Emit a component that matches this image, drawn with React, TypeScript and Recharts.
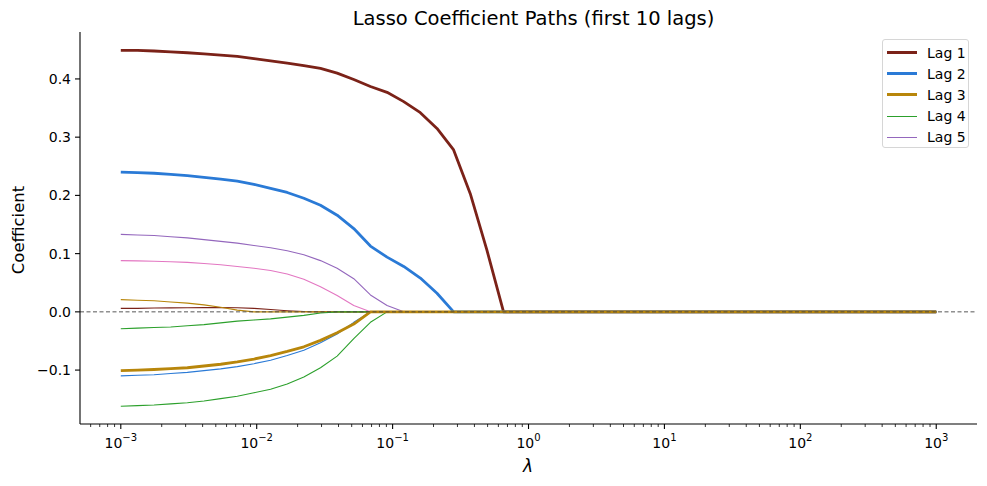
import { LineChart, Line, XAxis, YAxis, ReferenceLine } from 'recharts'

// lambda grid (log-spaced, 1e-3 .. 1e3, 50 points)
const lambdas = [
  0.001, 0.0013257, 0.0017575, 0.00233, 0.0030888, 0.0040949, 0.0054287, 0.0071969, 0.009541, 0.012649,
  0.016768, 0.02223, 0.029471, 0.039069, 0.051795, 0.068665, 0.09103, 0.12068, 0.15999, 0.2121,
  0.28118, 0.37276, 0.49417, 0.65513, 0.86851, 1.1514, 1.5264, 2.0236, 2.6827, 3.5565,
  4.7149, 6.2506, 8.2864, 10.985, 14.563, 19.307, 25.595, 33.932, 44.984, 59.636,
  79.06, 104.81, 138.95, 184.21, 244.21, 323.75, 429.19, 568.99, 754.31, 1000,
]

// coefficients; after the last listed value the path sits at 0
const lag1 = [
  0.449, 0.449, 0.448, 0.4465, 0.445, 0.443, 0.441, 0.4386, 0.435, 0.431, 0.427, 0.423,
  0.418, 0.41, 0.399, 0.387, 0.377, 0.361, 0.342, 0.315, 0.278, 0.203, 0.106, 0,
]
const lag2 = [
  0.24, 0.239, 0.238, 0.236, 0.234, 0.231, 0.228, 0.2245, 0.219, 0.212, 0.205, 0.195,
  0.183, 0.166, 0.143, 0.113, 0.094, 0.078, 0.058, 0.032, 0,
]
const lag3 = [
  -0.101, -0.1, -0.099, -0.0975, -0.096, -0.093, -0.09, -0.086, -0.081, -0.075, -0.068, -0.06,
  -0.049, -0.036, -0.021, 0,
]
const lag4 = [
  -0.162, -0.161, -0.16, -0.158, -0.156, -0.153, -0.149, -0.145, -0.139, -0.133, -0.124, -0.112,
  -0.096, -0.076, -0.046, -0.018, 0,
]
const lag5 = [
  0.133, 0.132, 0.131, 0.129, 0.127, 0.124, 0.121, 0.118, 0.114, 0.11, 0.105, 0.098,
  0.088, 0.075, 0.057, 0.029, 0.011, 0,
]
const lag6 = [
  0.088, 0.0875, 0.087, 0.086, 0.085, 0.083, 0.081, 0.078, 0.075, 0.071, 0.065, 0.056,
  0.043, 0.028, 0.011, 0,
]
const lag7 = [0.006, 0.006, 0.0065, 0.0068, 0.007, 0.0072, 0.0072, 0.007, 0.006, 0.004, 0.002, 0.0005, 0]
const lag8 = [
  -0.11, -0.109, -0.108, -0.106, -0.104, -0.101, -0.098, -0.094, -0.089, -0.083, -0.075, -0.066,
  -0.053, -0.038, -0.018, 0,
]
const lag9 = [0.021, 0.02, 0.019, 0.017, 0.015, 0.012, 0.008, 0.003, 0]
const lag10 = [-0.029, -0.028, -0.027, -0.026, -0.024, -0.022, -0.019, -0.016, -0.014, -0.012, -0.009, -0.006, -0.002, 0]

const yTicks = [-0.1, 0, 0.1, 0.2, 0.3, 0.4]
const majorTicks = [0.001, 0.01, 0.1, 1, 10, 100, 1000]

const FONT = '"DejaVu Sans", sans-serif'

const series = [
  { key: 'lag1', name: 'Lag 1', values: lag1, color: '#7b2218', width: 2.8 },
  { key: 'lag2', name: 'Lag 2', values: lag2, color: '#2a7ad6', width: 2.8 },
  { key: 'lag3', name: 'Lag 3', values: lag3, color: '#b8860b', width: 2.8 },
  { key: 'lag4', name: 'Lag 4', values: lag4, color: '#2ca02c', width: 1.1 },
  { key: 'lag5', name: 'Lag 5', values: lag5, color: '#9467bd', width: 1.1 },
  { key: 'lag6', name: 'Lag 6', values: lag6, color: '#e377c2', width: 1.1 },
  { key: 'lag7', name: 'Lag 7', values: lag7, color: '#7b2218', width: 1.1 },
  { key: 'lag8', name: 'Lag 8', values: lag8, color: '#2a7ad6', width: 1.1 },
  { key: 'lag9', name: 'Lag 9', values: lag9, color: '#b8860b', width: 1.1 },
  { key: 'lag10', name: 'Lag 10', values: lag10, color: '#2ca02c', width: 1.1 },
]

// thin paths underneath, thick ones on top
const drawOrder = [...series.slice(3), ...series.slice(0, 3)]

const data = lambdas.map((lam, i) => {
  const row: Record<string, number> = { lam }
  series.forEach((s) => {
    row[s.key] = s.values[i] ?? 0
  })
  return row
})

const xMin = 0.000501
const xMax = 1995

// log minor ticks (2..9 x 10^k) inside the visible range
const minorTicks: number[] = []
for (let k = -4; k <= 3; k++) {
  for (let m = 2; m <= 9; m++) {
    const v = m * Math.pow(10, k)
    if (v > xMin && v < xMax) minorTicks.push(v)
  }
}
const xTicks = [...majorTicks, ...minorTicks].sort((a, b) => a - b)

const minus = (s: string) => s.replace('-', '\u2212')

function LogTick(props: any) {
  const { x, y, payload } = props
  const lg = Math.log10(payload.value)
  const e = Math.round(lg)
  const major = Math.abs(lg - e) < 1e-6
  return (
    <g>
      <line
        x1={x}
        x2={x}
        y1={y}
        y2={y + (major ? 5 : 3)}
        stroke="#000"
        strokeWidth={major ? 1.1 : 0.8}
      />
      {major && (
        <text x={x} y={y + 24} textAnchor="middle" fontSize={14} fontFamily={FONT} fill="#000">
          <tspan>10</tspan>
          <tspan dy={-7} fontSize={10}>
            {minus(String(e))}
          </tspan>
        </text>
      )}
    </g>
  )
}

export default function App() {
  return (
    <div style={{ position: 'absolute', left: 0, top: 0, width: 987, height: 486, fontFamily: FONT }}>
      <LineChart width={987} height={486} data={data} margin={{ top: 32, right: 10, bottom: 0, left: 0 }}>
        <XAxis
          dataKey="lam"
          type="number"
          scale="log"
          domain={[xMin, xMax]}
          allowDataOverflow
          ticks={xTicks}
          interval={0}
          tick={<LogTick />}
          tickLine={false}
          tickSize={0}
          tickMargin={0}
          height={62}
          axisLine={{ stroke: '#000', strokeWidth: 1.1 }}
        />
        <YAxis
          type="number"
          domain={[-0.1926, 0.4806]}
          allowDataOverflow
          ticks={yTicks}
          interval={0}
          width={80}
          tickFormatter={(v: number) => minus(v.toFixed(1))}
          tick={{ fontSize: 14, fill: '#000', fontFamily: FONT }}
          tickSize={5}
          tickMargin={4}
          tickLine={{ stroke: '#000', strokeWidth: 1.1 }}
          axisLine={{ stroke: '#000', strokeWidth: 1.1 }}
        />
        {drawOrder.map((s) => (
          <Line
            key={s.key}
            type="linear"
            dataKey={s.key}
            name={s.name}
            stroke={s.color}
            strokeWidth={s.width}
            strokeLinejoin="round"
            dot={false}
            activeDot={false}
            isAnimationActive={false}
          />
        ))}
        <ReferenceLine y={0} stroke="#444" strokeWidth={0.9} strokeDasharray="4 2.5" />
      </LineChart>

      <div
        style={{
          position: 'absolute',
          left: 0,
          width: 987,
          top: 7,
          textAlign: 'center',
          paddingLeft: 80,
          boxSizing: 'border-box',
          fontSize: 19.5,
          lineHeight: '24px',
          color: '#000',
        }}
      >
        Lasso Coefficient Paths (first 10 lags)
      </div>
      <div
        style={{
          position: 'absolute',
          left: 18,
          top: 230,
          transform: 'translate(-50%, -50%) rotate(-90deg)',
          fontSize: 16.5,
          whiteSpace: 'nowrap',
          color: '#000',
        }}
      >
        Coefficient
      </div>
      <div
        style={{
          position: 'absolute',
          left: 528,
          top: 466,
          transform: 'translate(-50%, -50%)',
          fontSize: 17,
          fontStyle: 'italic',
          color: '#000',
        }}
      >
        λ
      </div>

      <div
        style={{
          position: 'absolute',
          left: 882,
          top: 39,
          width: 87,
          height: 109,
          boxSizing: 'border-box',
          border: '1px solid #d6d6d6',
          borderRadius: 3,
          background: 'rgba(255,255,255,0.8)',
          paddingTop: 2,
        }}
      >
        {series.slice(0, 5).map((s) => (
          <div key={s.key} style={{ display: 'flex', alignItems: 'center', height: 21.2 }}>
            <div
              style={{
                marginLeft: 4,
                width: 30,
                height: s.width > 2 ? 3 : 1,
                background: s.color,
                marginRight: 10,
              }}
            />
            <span style={{ fontSize: 14, color: '#000' }}>{s.name}</span>
          </div>
        ))}
      </div>
    </div>
  )
}
